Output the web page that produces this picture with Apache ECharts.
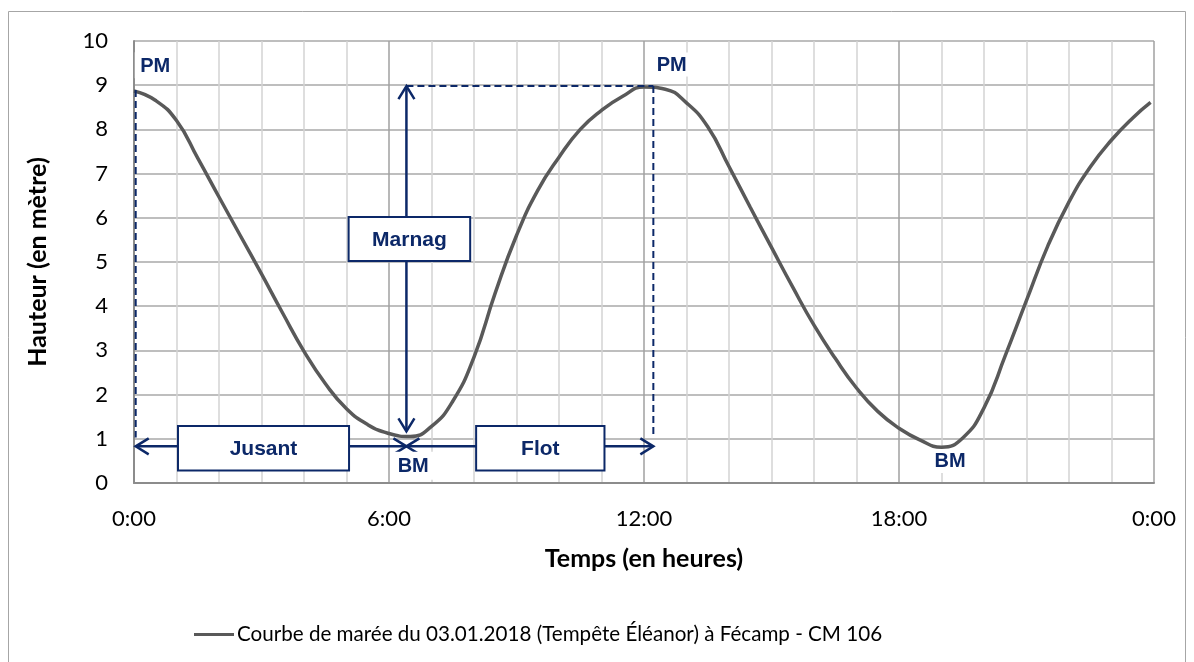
<!DOCTYPE html>
<html><head><meta charset="utf-8">
<script src="https://cdn.jsdelivr.net/npm/echarts@6/dist/echarts.min.js"></script>
<style>html,body{margin:0;padding:0;background:#fff}#c{width:1194px;height:662px}</style>
</head><body><div id="c"></div>
<script>
// ---- data ----
const hours = [0,0.5,1,1.5,2,2.5,3,3.5,4,4.5,5,5.5,6,6.5,7,7.5,8,8.5,9,9.5,10,10.5,11,11.5,12,12.5,13,13.5,14,14.5,15,15.5,16,16.5,17,17.5,18,18.5,19,19.5,20,20.5,21,21.5,22,22.5,23,23.5,23.92];
const heights = [8.87,8.66,8.2,7.35,6.47,5.6,4.73,3.84,2.98,2.25,1.68,1.32,1.12,1.05,1.28,1.85,2.85,4.3,5.6,6.62,7.37,8.0,8.43,8.75,8.96,8.91,8.6,8.06,7.16,6.24,5.33,4.43,3.57,2.82,2.15,1.62,1.24,0.97,0.81,1.02,1.7,2.88,4.13,5.36,6.36,7.15,7.76,8.26,8.61];
const xTickLabels = ['0:00','6:00','12:00','18:00','0:00'];
const seriesName = 'Courbe de marée du 03.01.2018 (Tempête Éléanor) à Fécamp - CM 106';
const xTitle = 'Temps (en heures)';
const yTitle = 'Hauteur (en mètre)';

// tide events (hour, height)
const pm1 = [0.04, 8.89];
const bm1 = [6.41, 1.04];
const pm2 = [12.22, 8.98];
const arrowLevel = 0.83;
const guideBottom = 1.03;

const NAVY = '#0C2868';
const FONT = 'Lato, "Liberation Sans", sans-serif';
const chart = echarts.init(document.getElementById('c'));

const option = {
  animation: false,
  backgroundColor: '#fff',
  grid: {left: 134, right: 40, top: 41, bottom: 179},
  xAxis: {
    type: 'value', min: 0, max: 24, interval: 6,
    axisLine: {show: true, onZero: false, lineStyle: {color: '#8c8c8c', width: 2}},
    axisTick: {show: false},
    axisLabel: {color: '#000', fontSize: 22, fontFamily: FONT, margin: 25,
      formatter: v => xTickLabels[Math.round(v / 6)]},
    splitLine: {show: true, lineStyle: {color: '#a0a0a0', width: 1.5}},
    minorTick: {show: false, splitNumber: 6},
    minorSplitLine: {show: true, lineStyle: {color: '#d4d4d4', width: 1.5}},
    name: xTitle, nameLocation: 'middle', nameGap: 63,
    nameTextStyle: {color: '#000', fontSize: 25, fontWeight: 'bold', fontFamily: FONT}
  },
  yAxis: {
    type: 'value', min: 0, max: 10, interval: 1,
    axisLine: {show: true, lineStyle: {color: '#8c8c8c', width: 2}},
    axisTick: {show: false},
    axisLabel: {color: '#000', fontSize: 22, fontFamily: FONT, margin: 26},
    splitLine: {show: true, lineStyle: {color: '#a8a8a8', width: 1.5}},
    name: yTitle, nameLocation: 'middle', nameGap: 84, nameRotate: 90,
    nameTextStyle: {color: '#000', fontSize: 25, fontWeight: 'bold', fontFamily: FONT}
  },
  legend: {
    left: 189, top: 619, icon: 'rect', itemWidth: 40, itemHeight: 3, itemGap: 4,
    textStyle: {color: '#000', fontSize: 20.6, fontFamily: FONT, padding: [0,0,0,-2]},
    data: [seriesName]
  },
  series: [{
    name: seriesName, type: 'line', smooth: 0.5, symbol: 'none',
    lineStyle: {color: '#595959', width: 3.5}, itemStyle: {color: '#595959'},
    data: hours.map((h, i) => [h, heights[i]])
  }]
};
chart.setOption(option);

function P(h, v) { return chart.convertToPixel({gridIndex: 0}, [h, v]); }
function head(tip, dx, dy) {
  const L = 13, W = 8;
  const bx = tip[0] - L * dx, by = tip[1] - L * dy;
  const nx = -dy, ny = dx;
  return {type: 'polyline', z: 100, shape: {points: [[bx + W * nx, by + W * ny], tip, [bx - W * nx, by - W * ny]]},
    style: {stroke: NAVY, lineWidth: 2.5, fill: null}};
}
function seg(a, b, dash) {
  return {type: 'line', z: 100, shape: {x1: a[0], y1: a[1], x2: b[0], y2: b[1]},
    style: {stroke: NAVY, lineWidth: dash ? 2 : 2.5, lineDash: dash ? [7, 4] : null}};
}
function box(h1, h2, v1, v2, label) {
  const a = P(h1, v2), b = P(h2, v1);
  return [
    {type: 'rect', z: 101, shape: {x: a[0], y: a[1], width: b[0] - a[0], height: b[1] - a[1]},
      style: {fill: '#fff', stroke: NAVY, lineWidth: 2}},
    {type: 'text', z: 102, style: {text: label, x: (a[0] + b[0]) / 2, y: (a[1] + b[1]) / 2 + 1,
      textAlign: 'center', textVerticalAlign: 'middle', align: 'center', verticalAlign: 'middle',
      fill: NAVY, font: 'bold 21px "Liberation Sans", Arial, sans-serif'}}
  ];
}
function tag(h, v, label, wh) {
  const c = P(h, v);
  return [
    {type: 'rect', z: 101, shape: {x: c[0] - wh[0] / 2, y: c[1] - wh[1] / 2, width: wh[0], height: wh[1]},
      style: {fill: '#fff', stroke: null}},
    {type: 'text', z: 102, style: {text: label, x: c[0], y: c[1] + 1,
      textAlign: 'center', textVerticalAlign: 'middle', align: 'center', verticalAlign: 'middle',
      fill: NAVY, font: 'bold 20px "Liberation Sans", Arial, sans-serif'}}
  ];
}

const g = [];
// outer chart border
g.push({type: 'rect', z: 0, shape: {x: 8.5, y: 11.5, width: 1177, height: 700},
  style: {fill: null, stroke: '#a6a6a6', lineWidth: 1}});
// dashed guides
g.push(seg(P(pm1[0], pm1[1]), P(pm1[0], guideBottom), true));
g.push(seg(P(bm1[0], pm2[1]), P(pm2[0], pm2[1]), true));
g.push(seg(P(pm2[0], pm2[1]), P(pm2[0], guideBottom), true));
// Jusant arrow
const jA = P(pm1[0], arrowLevel), jB = P(bm1[0], arrowLevel);
g.push(seg(jA, jB)); g.push(head(jA, -1, 0)); g.push(head(jB, 1, 0));
// Flot arrow
const fA = P(bm1[0], arrowLevel), fB = P(pm2[0], arrowLevel);
g.push(seg(fA, fB)); g.push(head(fA, -1, 0)); g.push(head(fB, 1, 0));
// Marnage arrow
const mA = P(bm1[0], 1.17), mB = P(bm1[0], pm2[1]);
g.push(seg(mA, mB)); g.push(head(mA, 0, 1)); g.push(head(mB, 0, -1));
// boxes
g.push(...box(1.035, 5.06, 0.28, 1.29, 'Jusant'));
g.push(...box(8.05, 11.07, 0.28, 1.29, 'Flot'));
g.push(...box(5.05, 7.91, 5.02, 6.02, 'Marnag'));
// tags
g.push(...tag(0.5, 9.45, 'PM', [41, 26]));
g.push(...tag(12.65, 9.47, 'PM', [42, 24]));
g.push(...tag(6.57, 0.39, 'BM', [44, 28]));
g.push(...tag(19.2, 0.5, 'BM', [46, 24]));

chart.setOption({graphic: g});
</script>
</body></html>
